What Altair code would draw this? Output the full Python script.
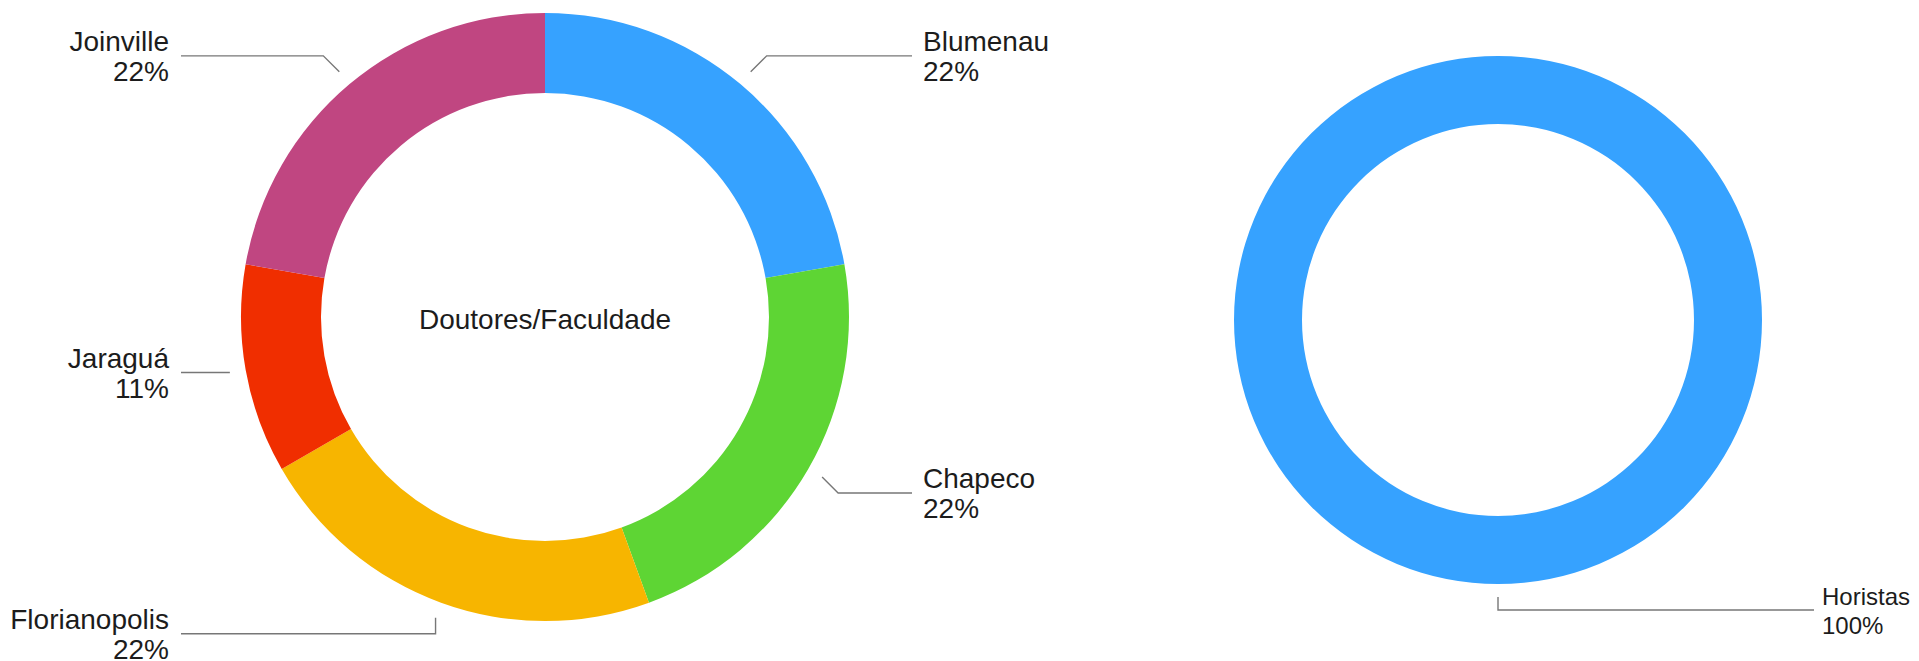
import math
import altair as alt
import pandas as pd

# ---------------- data ----------------
cities = ["Blumenau", "Chapeco", "Florianopolis", "Jaraguá", "Joinville"]
doutores = [2, 2, 2, 1, 2]
horistas_cats = ["Horistas"]
horistas_vals = [1]
center_title = "Doutores/Faculdade"
color_domain = ["Blumenau", "Chapeco", "Florianopolis", "Jaraguá", "Joinville", "Horistas"]
color_range = ["#36A2FF", "#5ED534", "#F7B500", "#F02E00", "#C04681", "#36A2FF"]

# ---------------- layout (pixels) ----------------
W, H = 1903, 653
X0, Y0 = 8, 8
LEFT = dict(cx=545, cy=317, r_out=304, r_in=224, gap=16, elbow=16, end_l=181, end_r=912,
            fs=28, lh=30, dx=11)
RIGHT = dict(cx=1498, cy=320, r_out=264, r_in=196, gap=13, elbow=13, end_l=181, end_r=1814,
             fs=24, lh=29, dx=8)
FONT = "Liberation Sans"
TEXT_COLOR = "#1c1c1c"

xs = alt.Scale(domain=[X0, X0 + W], nice=False, zero=False)
ys = alt.Scale(domain=[Y0 + H, Y0], nice=False, zero=False)


def geometry(cats, vals, geo, key):
    total = sum(vals)
    cum = 0.0
    lines, labels = [], []
    for c, v in zip(cats, vals):
        a = (cum + v / 2) / total * 2 * math.pi
        cum += v
        s, cs = math.sin(a), math.cos(a)
        r = geo["r_out"] + geo["gap"]
        sx, sy = geo["cx"] + r * s, geo["cy"] - r * cs
        sgx = 1 if s >= -1e-9 else -1
        sgy = 1 if -cs >= 0 else -1
        if abs(s) > 0.95:
            ex, ey = sx, sy
        elif abs(cs) > 0.9:
            ex, ey = sx, sy + geo["elbow"] * sgy
        else:
            ex, ey = sx + geo["elbow"] * sgx, sy + geo["elbow"] * sgy
        right = sgx > 0
        end_x = geo["end_r"] if right else geo["end_l"]
        lid = f"{key}-{c}"
        for i, (px, py) in enumerate([(sx, sy), (ex, ey), (end_x, ey)]):
            lines.append(dict(lid=lid, ord=i, px=px, py=py))
        labels.append(dict(
            text=f"{c}\n{round(100 * v / total)}%",
            lx=end_x + geo["dx"] if right else end_x - geo["dx"] - 1,
            ly=ey + 2 - geo["lh"] / 2,
            side="right" if right else "left",
            chart=key,
        ))
    return lines, labels


l1, t1 = geometry(cities, doutores, LEFT, "d")
l2, t2 = geometry(horistas_cats, horistas_vals, RIGHT, "h")
lines_df = pd.DataFrame(l1 + l2)
labels_df = pd.DataFrame(t1 + t2)

left_df = pd.DataFrame({"cat": cities, "value": doutores, "idx": range(len(cities))})
right_df = pd.DataFrame({"cat": horistas_cats, "value": horistas_vals, "idx": range(len(horistas_cats))})

color = alt.Color("cat:N", scale=alt.Scale(domain=color_domain, range=color_range), legend=None)


def donut(df, geo):
    return alt.Chart(df).mark_arc(
        radius=geo["r_out"], radius2=geo["r_in"], stroke=None
    ).encode(
        x=alt.X(datum=geo["cx"], type="quantitative", scale=xs, axis=None),
        y=alt.Y(datum=geo["cy"], type="quantitative", scale=ys, axis=None),
        theta=alt.Theta("value:Q", stack="normalize"),
        color=color,
        order=alt.Order("idx:Q"),
    )


leader = alt.Chart(lines_df).mark_line(color="#777777", strokeWidth=1.4).encode(
    x=alt.X("px:Q", scale=xs, axis=None),
    y=alt.Y("py:Q", scale=ys, axis=None),
    detail="lid:N",
    order="ord:Q",
)


def label_layer(key, side, align, geo):
    return alt.Chart(labels_df).transform_filter(
        (alt.datum.side == side) & (alt.datum.chart == key)
    ).mark_text(
        align=align, baseline="middle", lineBreak="\n", font=FONT,
        fontSize=geo["fs"], lineHeight=geo["lh"], color=TEXT_COLOR,
    ).encode(
        x=alt.X("lx:Q", scale=xs, axis=None),
        y=alt.Y("ly:Q", scale=ys, axis=None),
        text="text:N",
    )


center = alt.Chart(pd.DataFrame({"t": [center_title]})).mark_text(
    align="center", baseline="middle", font=FONT, fontSize=LEFT["fs"], color=TEXT_COLOR
).encode(
    x=alt.X(datum=LEFT["cx"], type="quantitative", scale=xs, axis=None),
    y=alt.Y(datum=LEFT["cy"] + 4, type="quantitative", scale=ys, axis=None),
    text="t:N",
)

chart = alt.layer(
    donut(left_df, LEFT),
    donut(right_df, RIGHT),
    leader,
    label_layer("d", "left", "right", LEFT),
    label_layer("d", "right", "left", LEFT),
    label_layer("h", "right", "left", RIGHT),
    center,
).properties(
    width=W, height=H, padding=0, autosize="none", background="white"
).configure_view(stroke=None)

chart.save("out.html", embed_options={"renderer": "svg", "actions": False})
